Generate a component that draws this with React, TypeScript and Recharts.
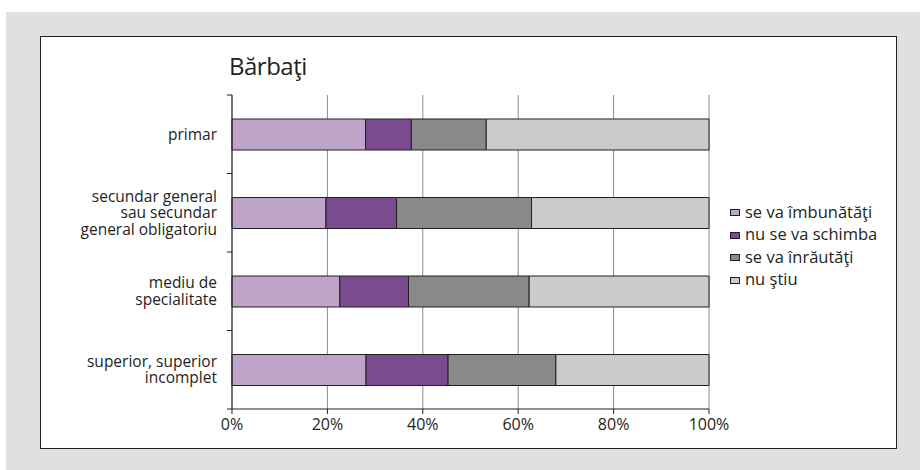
import React from 'react';
import { BarChart, Bar, XAxis, YAxis, CartesianGrid, Legend } from 'recharts';

const categories = [
  'primar',
  'secundar general\nsau secundar\ngeneral obligatoriu',
  'mediu de\nspecialitate',
  'superior, superior\nincomplet',
];
const improve = [28.0, 19.7, 22.6, 28.1];
const same = [9.6, 14.8, 14.4, 17.2];
const worse = [15.7, 28.3, 25.3, 22.6];
const dontKnow = [46.7, 37.2, 37.7, 32.1];
const xTicks = [0, 20, 40, 60, 80, 100];
const seriesNames = ['se va îmbunătăţi', 'nu se va schimba', 'se va înrăutăţi', 'nu ştiu'];
const seriesKeys = ['improve', 'same', 'worse', 'dontKnow'];
const seriesColors = ['#bea4c9', '#7a4b8e', '#898989', '#cbcbcb'];
const title = 'Bărbaţi';

const data = categories.map((name, i) => ({
  name,
  improve: improve[i],
  same: same[i],
  worse: worse[i],
  dontKnow: dontKnow[i],
}));

const FONT = '"Open Sans", "Noto Sans", sans-serif';
const INK = '#231f20';

const CatTick = (props: any) => {
  const { x, y, payload, index, visibleTicksCount } = props;
  const lines = String(payload.value).split('\n');
  const lh = 16.5;
  const start = y - ((lines.length - 1) * lh) / 2;
  const half = payload.offset || 0;
  const axisX = x + 15;
  return (
    <g>
      <line x1={axisX - 5} x2={axisX} y1={y - half} y2={y - half} stroke={INK} strokeWidth={1} />
      {index === visibleTicksCount - 1 && (
        <line x1={axisX - 5} x2={axisX} y1={y + half} y2={y + half} stroke={INK} strokeWidth={1} />
      )}
      <text x={x} y={start} textAnchor="end" fontSize={15.5} fill={INK} fontFamily={FONT}>
        {lines.map((l, i) => (
          <tspan key={i} x={x} y={start + i * lh} dy="0.35em">
            {l}
          </tspan>
        ))}
      </text>
    </g>
  );
};

const renderLegend = (props: any) => {
  const { payload } = props;
  const ordered = seriesNames
    .map((n) => (payload || []).find((p: any) => p.value === n))
    .filter(Boolean);
  return (
    <div style={{ fontFamily: FONT, fontSize: 16.5, color: INK }}>
      {ordered.map((p: any, i: number) => (
        <div key={i} style={{ display: 'flex', alignItems: 'center', height: 22.5, whiteSpace: 'nowrap' }}>
          <span
            style={{
              display: 'inline-block',
              width: 8,
              height: 5,
              background: p.color,
              border: `1px solid ${INK}`,
              marginRight: 5,
              marginTop: 3,
            }}
          />
          <span>{p.value}</span>
        </div>
      ))}
    </div>
  );
};

export default function App() {
  return (
    <div style={{ position: 'absolute', left: 0, top: 0, width: 920, height: 470, background: '#fff' }}>
      <div style={{ position: 'absolute', left: 6, top: 12, width: 914, height: 458, background: '#dfe0df' }} />
      <div
        style={{
          position: 'absolute',
          left: 40,
          top: 36,
          width: 855,
          height: 411,
          background: '#fff',
          border: `1.5px solid ${INK}`,
        }}
      />
      <div
        style={{
          position: 'absolute',
          left: 229,
          top: 50,
          fontFamily: FONT,
          fontSize: 24,
          lineHeight: '32px',
          letterSpacing: -0.5,
          color: INK,
        }}
      >
        {title}
      </div>
      <div style={{ position: 'absolute', left: 0, top: 0 }}>
        <BarChart
          width={920}
          height={470}
          data={data}
          layout="vertical"
          margin={{ top: 95, right: 211, bottom: 31, left: 0 }}
          barSize={31}
        >
          <CartesianGrid horizontal={false} stroke="#8c8c8c" strokeWidth={1} />
          <XAxis
            type="number"
            domain={[0, 100]}
            ticks={xTicks}
            tickFormatter={(v: number) => `${v}%`}
            tickSize={5}
            tickMargin={5}
            height={30}
            stroke={INK}
            tick={{ fontSize: 16, fill: INK, fontFamily: FONT }}
            interval={0}
          />
          <YAxis
            type="category"
            dataKey="name"
            width={232}
            tickLine={false}
            tickSize={0}
            tickMargin={15}
            stroke={INK}
            tick={<CatTick />}
            interval={0}
          />
          {seriesKeys.map((k, i) => (
            <Bar
              key={k}
              dataKey={k}
              name={seriesNames[i]}
              stackId="a"
              fill={seriesColors[i]}
              stroke={INK}
              strokeWidth={1}
              isAnimationActive={false}
            />
          ))}
          <Legend
            layout="vertical"
            align="center"
            verticalAlign="middle"
            content={renderLegend}
            wrapperStyle={{ position: 'absolute', left: 730, top: 200, width: 180 }}
          />
        </BarChart>
      </div>
    </div>
  );
}
